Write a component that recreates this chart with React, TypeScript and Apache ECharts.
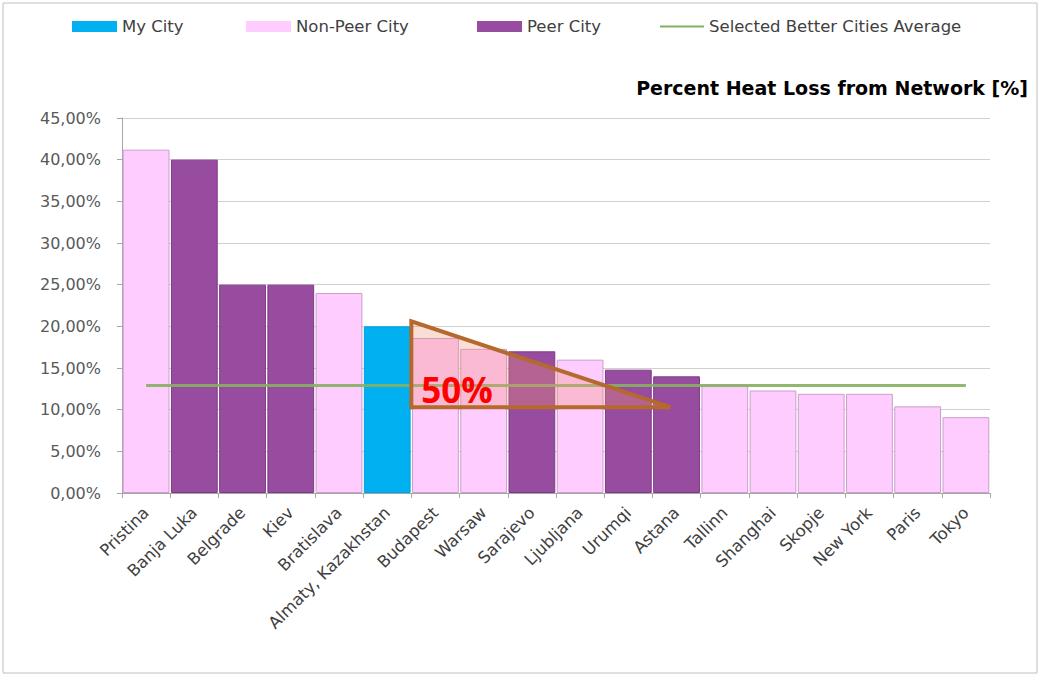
import React, { useEffect, useRef } from "react";
import * as echarts from "echarts";

const categories = [
  "Pristina", "Banja Luka", "Belgrade", "Kiev", "Bratislava", "Almaty, Kazakhstan",
  "Budapest", "Warsaw", "Sarajevo", "Ljubljana", "Urumqi", "Astana",
  "Tallinn", "Shanghai", "Skopje", "New York", "Paris", "Tokyo",
];
const heatLoss = [41.2, 40.0, 25.0, 25.0, 24.0, 20.0, 18.6, 17.3, 17.0, 16.0, 14.8, 14.0, 13.0, 12.3, 11.9, 11.9, 10.4, 9.1];
const cityType = [
  "Non-Peer City", "Peer City", "Peer City", "Peer City", "Non-Peer City", "My City",
  "Non-Peer City", "Non-Peer City", "Peer City", "Non-Peer City", "Peer City", "Peer City",
  "Non-Peer City", "Non-Peer City", "Non-Peer City", "Non-Peer City", "Non-Peer City", "Non-Peer City",
];
const betterAverage = [12.9, 12.9, 12.9, 12.9, 12.9, 12.9, 12.9, 12.9, 12.9, 12.9, 12.9, 12.9, 12.9, 12.9, 12.9, 12.9, 12.9, 12.9];
const yTicks = { min: 0, max: 45, interval: 5 };
const annotationLabel = "50%";
const titleText = "Percent Heat Loss from Network [%]";

const typeStyles: Record<string, { color: string; borderColor: string }> = {
  "My City": { color: "#00b0f0", borderColor: "#00a0e0" },
  "Non-Peer City": { color: "#ffccff", borderColor: "#c8a0c8" },
  "Peer City": { color: "#984ca0", borderColor: "#7e3a86" },
};

const FONT = "DejaVu Sans";

export default function App() {
  const ref = useRef<HTMLDivElement>(null);
  useEffect(() => {
    if (!ref.current) return;
    const chart = echarts.init(ref.current, null, { renderer: "svg" });
    const barSeries = ["My City", "Non-Peer City", "Peer City"].map((t) => ({
      name: t,
      type: "bar",
      stack: "cities",
      barCategoryGap: "3%",
      itemStyle: { color: typeStyles[t].color, borderColor: typeStyles[t].borderColor, borderWidth: 1 },
      data: heatLoss.map((v, i) => (cityType[i] === t ? v : "-")),
      z: 2,
    }));
    const legendText = { color: "#404040", fontFamily: FONT, fontSize: 16.5 };
    const legendBase = {
      top: 18,
      padding: 0,
      itemWidth: 45,
      itemHeight: 11,
      icon: "rect",
      itemStyle: { borderWidth: 0 },
      textStyle: legendText,
    };
    chart.setOption({
      animation: false,
      backgroundColor: "#ffffff",
      title: {
        text: titleText,
        right: 8,
        top: 73,
        textStyle: { fontFamily: FONT, fontSize: 19, fontWeight: "bold", color: "#000" },
      },
      legend: [
        { ...legendBase, data: ["My City"], left: 72 },
        { ...legendBase, data: ["Non-Peer City"], left: 246 },
        { ...legendBase, data: ["Peer City"], left: 477 },
        {
          ...legendBase,
          data: ["Selected Better Cities Average"],
          left: 660,
          itemWidth: 44,
          itemHeight: 2,
        },
      ],
      grid: { left: 122, right: 51, top: 118, bottom: 182, containLabel: false },
      xAxis: {
        type: "category",
        data: categories,
        axisLine: { lineStyle: { color: "#a6a6a6" } },
        axisTick: { show: true, alignWithLabel: false, length: 5, lineStyle: { color: "#a6a6a6" } },
        axisLabel: {
          rotate: 45,
          interval: 0,
          margin: 17,
          color: "#404040",
          fontFamily: FONT,
          fontSize: 16.5,
        },
      },
      yAxis: {
        type: "value",
        min: yTicks.min,
        max: yTicks.max,
        interval: yTicks.interval,
        axisLine: { show: true, lineStyle: { color: "#a6a6a6" } },
        axisTick: { show: true, length: 5, lineStyle: { color: "#a6a6a6" } },
        splitLine: { lineStyle: { color: "#d0d0d0", width: 1 } },
        axisLabel: {
          margin: 21,
          color: "#595959",
          fontFamily: FONT,
          fontSize: 16,
          formatter: (v: number) => v.toFixed(2).replace(".", ",") + "%",
        },
      },
      series: [
        ...barSeries,
        {
          name: "Selected Better Cities Average",
          type: "line",
          data: betterAverage,
          symbol: "none",
          lineStyle: { color: "#86b060", width: 3, opacity: 0.9 },
          itemStyle: { color: "#86b060" },
          z: 3,
        },
      ],
    });

    const drawAnnotation = () => {
      const topY = chart.convertToPixel({ yAxisIndex: 0 }, 20.6) as number;
      const xMid = chart.convertToPixel({ xAxisIndex: 0 }, categories[11]) as number;
      const bottomY = chart.convertToPixel({ yAxisIndex: 0 }, 10.3) as number;
      const step = (chart.convertToPixel({ xAxisIndex: 0 }, categories[1]) as number) -
        (chart.convertToPixel({ xAxisIndex: 0 }, categories[0]) as number);
      const left = xMid - 5.5 * step;
      const pts = [
        [left, topY],
        [left, bottomY],
        [xMid - 0.13 * step, bottomY],
      ];
      chart.setOption({
        graphic: [
          {
            type: "rect",
            shape: { x: 3, y: 3, width: 1034, height: 670 },
            style: { fill: "none", stroke: "#c0c0c0", lineWidth: 1 },
            silent: true,
            z: -1,
          },
          {
            type: "polygon",
            shape: { points: pts },
            style: { fill: "rgba(240,150,120,0.32)", stroke: "#b5692d", lineWidth: 4, lineJoin: "miter" },
            z: 10,
          },
          {
            type: "text",
            x: left + 10,
            y: bottomY,
            style: {
              text: annotationLabel,
              fill: "#ff0000",
              font: `bold 35px 'Open Sans'`,
              textVerticalAlign: "bottom",
            },
            z: 11,
          },
        ],
      });
    };
    drawAnnotation();
    return () => chart.dispose();
  }, []);
  return (
    <div
      ref={ref}
      style={{ position: "fixed", left: 0, top: 0, width: 1041, height: 675, background: "#fff" }}
    />
  );
}
